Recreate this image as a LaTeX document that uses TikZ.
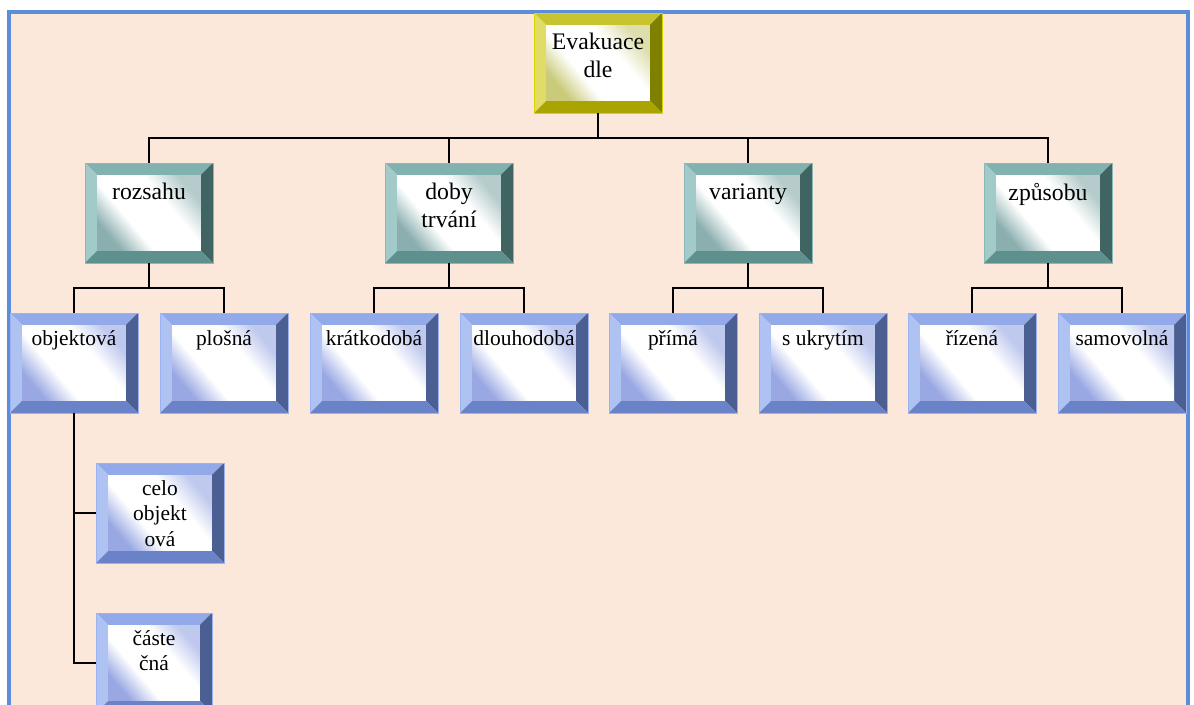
\documentclass[tikz,border=0pt]{standalone}
\usepackage{fontspec}
\setmainfont{Liberation Serif}

% colour families of the bevelled boxes
\definecolor{yltop}{HTML}{C8C430}
\definecolor{ylleft}{HTML}{E0DC66}
\definecolor{ylright}{HTML}{808000}
\definecolor{ylbottom}{HTML}{A9A400}
\definecolor{ylin}{HTML}{BDBD5A}
\definecolor{ylline}{HTML}{D8D400}

\definecolor{tltop}{HTML}{82B2B0}
\definecolor{tlleft}{HTML}{A2CAC8}
\definecolor{tlright}{HTML}{3F6462}
\definecolor{tlbottom}{HTML}{5E908E}
\definecolor{tlin}{HTML}{6E9A9A}
\definecolor{tlline}{HTML}{8AB8B6}

\definecolor{bltop}{HTML}{92AAEA}
\definecolor{blleft}{HTML}{AFC3F3}
\definecolor{blright}{HTML}{4B5F92}
\definecolor{blbottom}{HTML}{6982C8}
\definecolor{blin}{HTML}{7F92DC}
\definecolor{blline}{HTML}{9AB2F0}

\definecolor{bgpeach}{HTML}{FCE8DA}
\definecolor{framebl}{HTML}{5B8DD9}
\colorlet{bandin}{blin}

% white band across the face of a box
\pgfdeclarehorizontalshading[bandin]{diagband}{100bp}{color(0bp)=(bandin!80!white); color(25bp)=(bandin!80!white);
  color(39bp)=(white); color(61bp)=(white); color(75bp)=(bandin!50!white); color(100bp)=(bandin!50!white)}

\newcommand{\bev}{0.24cm}

\tikzset{
  box/.style n args={3}{draw=#1line, line width=0.5pt, minimum width=2.56cm, minimum height=2cm, inner sep=0pt,
    font=\rmfamily\fontsize{#3}{1.17\dimexpr#3pt\relax}\selectfont,
    execute at begin node={\begin{minipage}[c][#2][t]{2.3cm}\centering},
    execute at end node={\end{minipage}},
    path picture={
      \path (path picture bounding box.south west) coordinate (sw)
            (path picture bounding box.north east) coordinate (ne)
            (path picture bounding box.north west) coordinate (nw)
            (path picture bounding box.south east) coordinate (se);
      \fill[#1top] (nw) -- (ne) -- ([shift={(-\bev,-\bev)}]ne) -- ([shift={(\bev,-\bev)}]nw) -- cycle;
      \fill[#1left] (nw) -- (sw) -- ([shift={(\bev,\bev)}]sw) -- ([shift={(\bev,-\bev)}]nw) -- cycle;
      \fill[#1right] (ne) -- (se) -- ([shift={(-\bev,\bev)}]se) -- ([shift={(-\bev,-\bev)}]ne) -- cycle;
      \fill[#1bottom] (sw) -- (se) -- ([shift={(-\bev,\bev)}]se) -- ([shift={(\bev,\bev)}]sw) -- cycle;
      \colorlet{bandin}{#1in}
      \shade[shading=diagband, shading angle=40]
        ([shift={(\bev,\bev)}]sw) rectangle ([shift={(-\bev,-\bev)}]ne);
    }},
  top/.style={box={yl}{1.18cm}{13.5}},
  mid/.style={box={tl}{1.18cm}{13.5}},
  leaf/.style={box={bl}{1.28cm}{12.2}},
  conn/.style={line width=1.1pt, black}
}

\begin{document}
\begin{tikzpicture}[x=0.02cm, y=-0.02cm]
\useasboundingbox (0,0) rectangle (1194,705);
\clip (0,0) rectangle (1194,705);
\fill[white] (0,0) rectangle (1194,705);
\fill[bgpeach] (9,12) rectangle (1188,720);
\draw[framebl, line width=1.8pt] (9,720) -- (9,12) -- (1188,12) -- (1188,720);

% top
\node[top] (ev) at (598,63) {Evakuace\\dle};

% second level
\node[mid] (roz) at (149,213) {rozsahu};
\node[mid] (doby) at (449,213) {doby\\trvání};
\node[mid] (var) at (748,213) {varianty};
\node[mid] (zpus) at (1048,213) {způsobu};

% third level
\node[leaf] (obj) at (74,363) {objektová};
\node[leaf] (plos) at (224,363) {plošná};
\node[leaf] (krat) at (374,363) {krátkodobá};
\node[leaf] (dlou) at (524,363) {dlouhodobá};
\node[leaf] (prim) at (673,363) {přímá};
\node[leaf] (ukr) at (823,363) {s ukrytím};
\node[leaf] (riz) at (972,363) {řízená};
\node[leaf] (samo) at (1122,363) {samovolná};

% under objektova
\node[leaf] (celo) at (160,513) {celo\\objekt\\ová};
\node[leaf, minimum width=2.32cm] (cast) at (154,663) {částe\\čná};

% connectors
\foreach \n in {roz,doby,var,zpus}
  \draw[conn] (ev.south) -- ++(0,25) -| (\n.north);
\draw[conn] (roz.south) -- ++(0,25) -| (obj.north);
\draw[conn] (roz.south) -- ++(0,25) -| (plos.north);
\draw[conn] (doby.south) -- ++(0,25) -| (krat.north);
\draw[conn] (doby.south) -- ++(0,25) -| (dlou.north);
\draw[conn] (var.south) -- ++(0,25) -| (prim.north);
\draw[conn] (var.south) -- ++(0,25) -| (ukr.north);
\draw[conn] (zpus.south) -- ++(0,25) -| (riz.north);
\draw[conn] (zpus.south) -- ++(0,25) -| (samo.north);
\draw[conn] (obj.south) |- (celo.west);
\draw[conn] (obj.south) |- (cast.west);
\end{tikzpicture}
\end{document}
